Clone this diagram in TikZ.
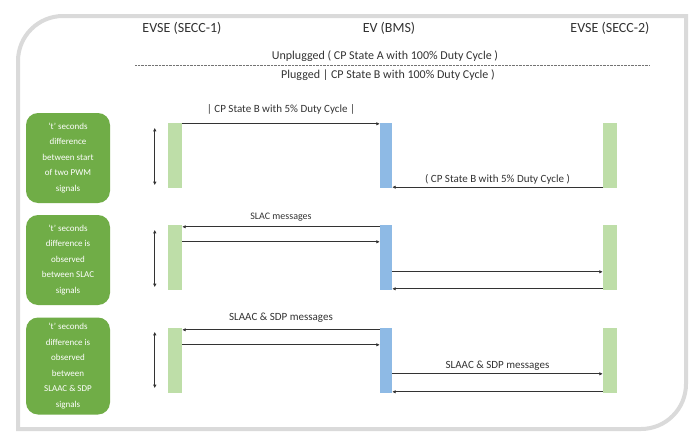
\documentclass[tikz,border=0pt]{standalone}
\usepackage{fontspec}
\setmainfont{Carlito}
\usetikzlibrary{arrows.meta,positioning}
\definecolor{boxgreen}{RGB}{112,173,71}
\definecolor{evsegreen}{RGB}{190,222,168}
\definecolor{evblue}{RGB}{142,186,229}
\definecolor{framegray}{RGB}{218,218,218}

\begin{document}
\begin{tikzpicture}[
    x=1pt,y=-1pt,
    head/.style={font=\fontsize{14}{16}\selectfont,text=black!80},
    state/.style={font=\fontsize{12}{14}\selectfont,text=black!80},
    lbl/.style={font=\fontsize{11}{13}\selectfont,text=black!80,inner sep=1pt},
    note/.style={rounded corners=12pt,fill=boxgreen,text=white,align=center,minimum width=84pt,inner sep=2pt,font=\fontsize{9}{15.5}\selectfont},
    sbar/.style={fill=evsegreen,minimum width=14pt,minimum height=65pt,inner sep=0pt},
    ebar/.style={sbar,fill=evblue,minimum width=12pt},
    msg/.style={-{Latex[length=3.5pt,width=3.5pt]},line width=0.8pt,black!80},
    span/.style={{Latex[length=3.5pt,width=3.5pt]}-{Latex[length=3.5pt,width=3.5pt]},line width=0.8pt,black!80}
  ]
    \useasboundingbox (0,0) rectangle (699,439);
    % frame
    \draw[framegray,line width=4pt,fill=white] (18,429) -- (18,61) arc[start angle=180,end angle=90,radius=45pt]
      -- (686,16) -- (686,384) arc[start angle=0,end angle=-90,radius=45pt] -- cycle;

    % headers
    \node[head] (secc1) at (182,28) {EVSE (SECC-1)};
    \node[head] (bms) at (389,28) {EV (BMS)};
    \node[head] (secc2) at (610,28) {EVSE (SECC-2)};
    \node[state] (unplug) at (385,56) {Unplugged ( CP State A with 100\% Duty Cycle )};
    \node[state] (plug) at (388,75) {Plugged | CP State B with 100\% Duty Cycle )};
    \coordinate (dotl) at (135,65);
    \coordinate (dotr) at (650,65);
    \draw[densely dotted,black!55] (dotl) -- (dotr);

    % notes on the left
    \node[note,minimum height=90pt] (t1) at (68,158) {`t' seconds\\difference\\between start\\of two PWM\\signals};
    \node[note,minimum height=90pt] (t2) at (68,260) {`t' seconds\\difference is\\observed\\between SLAC\\signals};
    \node[note,minimum height=97pt] (t3) at (68,366) {`t' seconds\\difference is\\observed\\between\\SLAAC \& SDP\\signals};

    % life line bars
    \node[sbar] (l1) at (175,155.5) {};
    \node[ebar] (m1) at (386,155.5) {};
    \node[sbar] (r1) at (610,155.5) {};
    \node[sbar] (l2) at (175,257.5) {};
    \node[ebar] (m2) at (386,257.5) {};
    \node[sbar] (r2) at (610,257.5) {};
    \node[sbar] (l3) at (175,360.5) {};
    \node[ebar] (m3) at (386,360.5) {};
    \node[sbar] (r3) at (610,360.5) {};

    % PWM
    \draw[span] ([xshift=-13pt,yshift=-5pt]l1.north west) -- ([xshift=-13pt,yshift=3pt]l1.south west);
    \draw[msg] ([yshift=-1pt]l1.north east) -- node[lbl,above=8pt]{| CP State B with 5\% Duty Cycle |} ([yshift=-1pt]m1.north west);
    \draw[msg] ([yshift=1pt]r1.south west) -- node[lbl,above=2pt]{( CP State B with 5\% Duty Cycle )} ([yshift=1pt]m1.south east);

    % SLAC
    \draw[span] ([xshift=-13pt,yshift=-5pt]l2.north west) -- ([xshift=-13pt,yshift=3pt]l2.south west);
    \draw[msg] ([yshift=-2pt]m2.north west) -- node[lbl,above=4pt,font=\fontsize{10}{12}\selectfont]{SLAC messages} ([yshift=-2pt]l2.north east);
    \draw[msg] ([yshift=-17pt]l2.north east) -- ([yshift=-17pt]m2.north west);
    \draw[msg] ([yshift=-47pt]m2.north east) -- ([yshift=-47pt]r2.north west);
    \draw[msg] ([yshift=-64pt]r2.north west) -- ([yshift=-64pt]m2.north east);

    % SLAAC & SDP
    \draw[span] ([xshift=-13pt,yshift=-4pt]l3.north west) -- ([xshift=-13pt,yshift=5pt]l3.south west);
    \draw[msg] ([yshift=-2pt]m3.north west) -- node[lbl,above=6pt]{SLAAC \& SDP messages} ([yshift=-2pt]l3.north east);
    \draw[msg] ([yshift=-17pt]l3.north east) -- ([yshift=-17pt]m3.north west);
    \draw[msg] ([yshift=-46pt]m3.north east) -- node[lbl,above=2pt]{SLAAC \& SDP messages} ([yshift=-46pt]r3.north west);
    \draw[msg] ([yshift=-64pt]r3.north west) -- ([yshift=-64pt]m3.north east);
\end{tikzpicture}
\end{document}
